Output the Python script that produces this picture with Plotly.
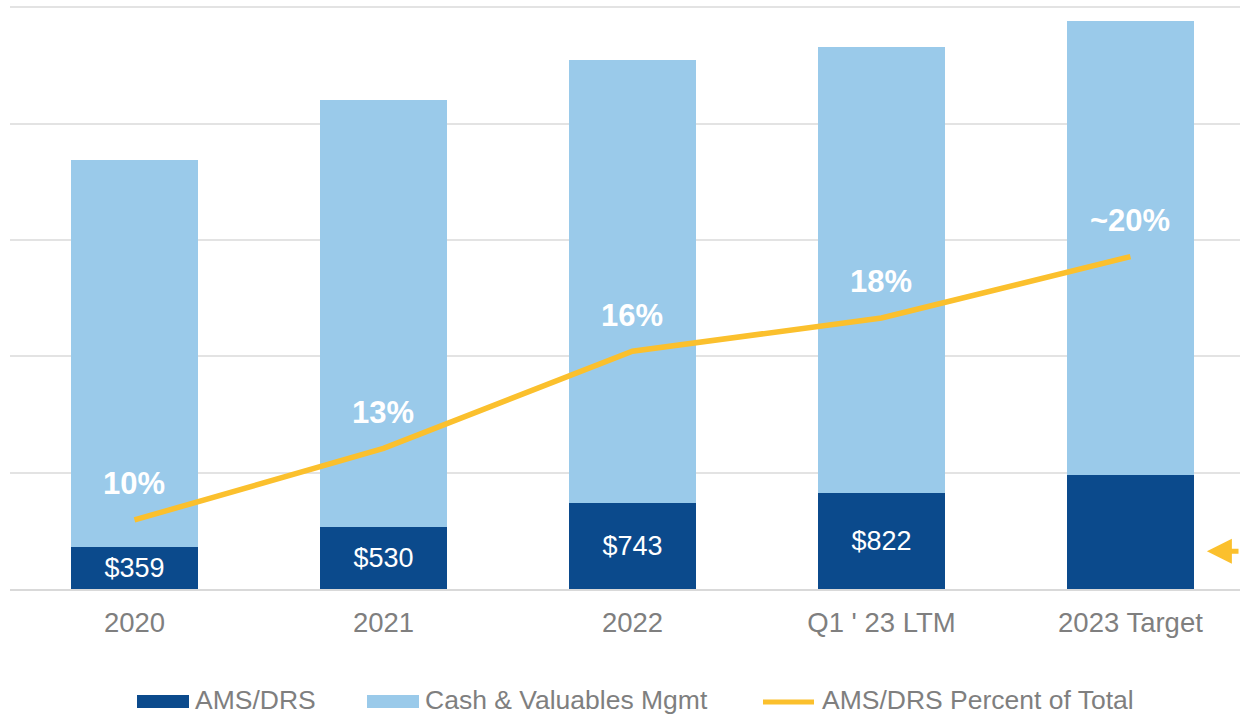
import plotly.graph_objects as go

categories = ["2020", "2021", "2022", "Q1 ' 23 LTM", "2023 Target"]
ams_drs = [359, 530, 743, 822, 983]
cash_valuables = [3328, 3673, 3804, 3836, 3900]
pct_of_total = [9.7, 12.5, 16.3, 17.6, 20.0]
bar_labels = ["$359", "$530", "$743", "$822", ""]
pct_labels = ["10%", "13%", "16%", "18%", "~20%"]
legend_names = ["AMS/DRS", "Cash & Valuables Mgmt", "AMS/DRS Percent of Total"]

DARK = "#0B4A8C"
LIGHT = "#9ACAEA"
GOLD = "#FBC02D"
GREY = "#7F7F7F"
FONT = "Liberation Sans, Arial, sans-serif"

W, H = 1240, 714
ML, MR, MT, MB = 10, 0, 6, 125
PW, PH = W - ML - MR, H - MT - MB

x = list(range(len(categories)))

fig = go.Figure()
fig.add_trace(go.Bar(
    x=x, y=ams_drs, name=legend_names[0], marker=dict(color=DARK, line=dict(width=0)),
    width=0.51, text=bar_labels, textposition="inside", insidetextanchor="middle",
    textangle=0, constraintext="none",
    insidetextfont=dict(color="white", size=27, family=FONT), hoverinfo="skip",
))
fig.add_trace(go.Bar(
    x=x, y=cash_valuables, name=legend_names[1],
    marker=dict(color=LIGHT, line=dict(width=0)), width=0.51, hoverinfo="skip",
))
fig.add_trace(go.Scatter(
    x=x, y=pct_of_total, name=legend_names[2], mode="lines",
    line=dict(color=GOLD, width=5.5), yaxis="y2",
))

for xi, yi, lab in zip(x, pct_of_total, pct_labels):
    fig.add_annotation(x=xi, y=yi, yref="y2", text=f"<b>{lab}</b>", showarrow=False,
                       yshift=36, font=dict(color="white", size=31, family=FONT))

# arrow pointing to target bar from the right
fig.add_annotation(x=4.307, y=ams_drs[4] * 0.33, text="", showarrow=True,
                   arrowhead=2, arrowsize=1, arrowwidth=5, arrowcolor=GOLD,
                   ax=50, ay=0)

# custom legend (paper coordinates)
def px_x(p):
    return (p - ML) / PW

def px_y(p):
    return (H - MB - p) / PH

items = [
    (137, 189, 193, "rect", DARK),
    (367, 419, 423, "rect", LIGHT),
    (761, 816, 820, "line", GOLD),
]
for (x0, x1, tx, kind, col), name in zip(items, legend_names):
    if kind == "rect":
        fig.add_shape(type="rect", xref="paper", yref="paper",
                      x0=px_x(x0), x1=px_x(x1), y0=px_y(708), y1=px_y(695),
                      fillcolor=col, line=dict(width=0))
    else:
        fig.add_shape(type="line", xref="paper", yref="paper",
                      x0=px_x(x0 + 2), x1=px_x(x1 - 2), y0=px_y(702), y1=px_y(702),
                      line=dict(color=col, width=5))
    fig.add_annotation(xref="paper", yref="paper", x=px_x(tx), y=px_y(700),
                       xanchor="left", yanchor="middle", text=name, showarrow=False,
                       font=dict(size=26.5, color=GREY, family=FONT))

fig.update_layout(
    barmode="stack",
    width=W, height=H,
    margin=dict(l=ML, r=MR, t=MT, b=MB, autoexpand=False),
    plot_bgcolor="white", paper_bgcolor="white",
    font=dict(family=FONT, color=GREY, size=24),
    showlegend=False,
    xaxis=dict(range=[-0.5, 4.44], tickmode="array", tickvals=x, ticktext=categories,
               showgrid=False, showline=True, linecolor="#D9D9D9", linewidth=2,
               ticks="outside", ticklen=8, tickcolor="rgba(0,0,0,0)",
               tickfont=dict(size=27.5, color=GREY, family=FONT), fixedrange=True),
    yaxis=dict(range=[0, 5010], tickmode="array", tickvals=[1000, 2000, 3000, 4000, 5000],
               showgrid=True, gridcolor="#E3E3E3",
               gridwidth=2, showticklabels=False, zeroline=False, fixedrange=True),
    yaxis2=dict(range=[7.0, 29.8], overlaying="y", side="right", showgrid=False,
                showticklabels=False, zeroline=False, fixedrange=True),
)

fig.write_html(
    "out.html",
    config={"displayModeBar": False},
    post_script="document.body.style.margin='0';document.body.style.overflow='hidden';",
)
